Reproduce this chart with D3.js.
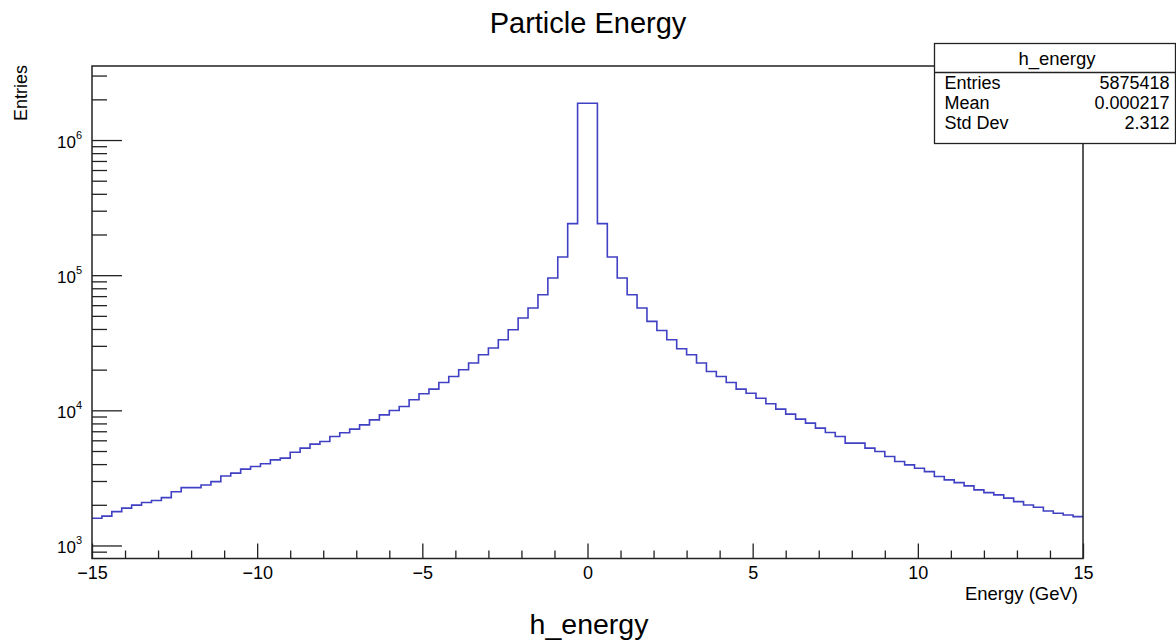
<!DOCTYPE html>
<html>
<meta charset="utf-8">
<style>
  body { margin: 0; background: #fff; }
  text { font-family: "Liberation Sans", Arial, Helvetica, sans-serif; fill: #000; }
</style>
<script src="https://d3js.org/d3.v7.min.js"></script>

<div id="hist_div"></div>

<script>

// histogram h_energy: 100 bins from -15 to 15 GeV
var binLow = -15, binHigh = 15;
var counts = [
  1590, 1650, 1780, 1890, 1990, 2080, 2150, 2260, 2500, 2680,
  2680, 2800, 2970, 3270, 3430, 3670, 3840, 4020, 4300, 4430,
  4900, 5250, 5620, 5880, 6400, 6820, 7260, 7810, 8500, 9260,
  9970, 10670, 11960, 13250, 14360, 16070, 17800, 19950, 22370, 25760,
  28900, 33280, 39450, 48170, 57150, 71730, 95310, 136400, 240700, 1870000,
  1870000, 240700, 136400, 95300, 71700, 57150, 45500, 39000, 33280, 28550,
  25760, 22370, 19370, 17800, 16070, 14360, 13390, 12300, 11200, 10210,
  9380, 8610, 8040, 7380, 6850, 6400, 5720, 5720, 5250, 4960,
  4550, 4180, 3950, 3730, 3520, 3240, 3060, 2920, 2760, 2580,
  2460, 2370, 2240, 2110, 1995, 1920, 1800, 1730, 1680, 1635
];

var statLabels = ["Entries", "Mean", "Std Dev"];
var statValues = ["5875418", "0.000217", "2.312"];

var xMajor = [-15, -10, -5, 0, 5, 10, 15];
var yDecades = [1e3, 1e4, 1e5, 1e6];

var width = 1176, height = 644;
var frame = {left: 92, right: 1083, top: 66, bottom: 558.5};

var svg = d3.select("#hist_div")
  .append("svg")
  .attr("width", width)
  .attr("height", height);

var x = d3.scaleLinear()
  .domain([binLow, binHigh])
  .range([frame.left, frame.right]);

var y = d3.scaleLog()
  .domain([801, 3.53e6])
  .range([frame.bottom, frame.top]);

var binW = (binHigh - binLow) / counts.length;

// minor ticks on x (every 1 GeV)
var xMinor = d3.range(binLow, binHigh + 0.5, 1).filter(function(v) { return v % 5 != 0; });

svg.append("g")
  .attr("transform", "translate(0," + frame.bottom + ")")
  .call(d3.axisBottom(x).tickValues(xMinor).tickSize(-8).tickFormat(""))
  .call(function(g) { g.select(".domain").remove(); })
  .selectAll("line").attr("stroke", "#222").attr("stroke-width", 1.3);

svg.append("g")
  .attr("transform", "translate(0," + frame.bottom + ")")
  .call(d3.axisBottom(x).tickValues(xMajor).tickSize(-15)
    .tickFormat(function(d) { return d < 0 ? "\u2212" + Math.abs(d) : d; }))
  .call(function(g) { g.select(".domain").remove(); })
  .call(function(g) {
    g.selectAll("line").attr("stroke", "#222").attr("stroke-width", 1.3);
    g.selectAll("text").attr("y", 8).attr("dy", "0.71em")
      .style("font-size", "18px").attr("fill", "#000");
  });

// minor ticks on y (2..9 x 10^n)
var yMinor = [];
[100, 1000, 10000, 100000, 1000000].forEach(function(p) {
  for (var m = 2; m <= 9; m++) {
    var v = m * p;
    if (v >= y.domain()[0] && v <= y.domain()[1]) yMinor.push(v);
  }
});

svg.append("g")
  .attr("transform", "translate(" + frame.left + ",0)")
  .call(d3.axisLeft(y).tickValues(yMinor).tickSize(-15).tickFormat(""))
  .call(function(g) { g.select(".domain").remove(); })
  .selectAll("line").attr("stroke", "#222").attr("stroke-width", 1.3);

var yAxis = svg.append("g")
  .attr("transform", "translate(" + frame.left + ",0)")
  .call(d3.axisLeft(y).tickValues(yDecades).tickSize(-30).tickFormat(""))
  .call(function(g) { g.select(".domain").remove(); });
yAxis.selectAll("line").attr("stroke", "#222").attr("stroke-width", 1.3);

// decade labels as 10^n
var yLab = svg.append("g");
yDecades.forEach(function(v) {
  var t = yLab.append("text")
    .attr("x", frame.left - 10)
    .attr("y", y(v) + 8)
    .attr("text-anchor", "end")
    .style("font-size", "17px");
  t.append("tspan").text("10");
  t.append("tspan").attr("dy", -9).style("font-size", "11px")
    .text(Math.round(Math.log10(v)));
});

// histogram outline
var pts = counts.map(function(c, i) { return [binLow + i * binW, c]; });
pts.push([binHigh, counts[counts.length - 1]]);

var line = d3.line()
  .x(function(d) { return x(d[0]); })
  .y(function(d) { return y(d[1]); })
  .curve(d3.curveStepAfter);

svg.append("path")
  .datum(pts)
  .attr("d", line)
  .attr("fill", "none")
  .attr("stroke", "#4040c4")
  .attr("stroke-width", 1.6);

// frame
svg.append("rect")
  .attr("x", frame.left)
  .attr("y", frame.top)
  .attr("width", frame.right - frame.left)
  .attr("height", frame.bottom - frame.top)
  .attr("fill", "none")
  .attr("stroke", "#222")
  .attr("stroke-width", 1.5);

// titles
svg.append("text")
  .attr("x", 588).attr("y", 33)
  .attr("text-anchor", "middle")
  .style("font-size", "29px")
  .text("Particle Energy");

svg.append("text")
  .attr("x", frame.right - 5).attr("y", 600)
  .attr("text-anchor", "end")
  .style("font-size", "18.5px")
  .text("Energy (GeV)");

svg.append("text")
  .attr("transform", "translate(27,65) rotate(-90)")
  .attr("text-anchor", "end")
  .style("font-size", "18px")
  .text("Entries");

svg.append("text")
  .attr("x", 589).attr("y", 634)
  .attr("text-anchor", "middle")
  .style("font-size", "28.5px")
  .text("h_energy");

// stats box
var box = {x: 934.5, y: 43.5, w: 241, h: 100, head: 29};
var sb = svg.append("g");
sb.append("rect")
  .attr("x", box.x).attr("y", box.y)
  .attr("width", box.w).attr("height", box.h)
  .attr("fill", "#fff").attr("stroke", "#222").attr("stroke-width", 1.3);
sb.append("line")
  .attr("x1", box.x).attr("x2", box.x + box.w)
  .attr("y1", box.y + box.head).attr("y2", box.y + box.head)
  .attr("stroke", "#222").attr("stroke-width", 1.3);
sb.append("text")
  .attr("x", box.x + box.w / 2 + 2).attr("y", box.y + 21)
  .attr("text-anchor", "middle")
  .style("font-size", "18.5px")
  .text("h_energy");
statLabels.forEach(function(s, i) {
  var ty = box.y + box.head + 16 + i * 20;
  sb.append("text").attr("x", box.x + 10).attr("y", ty)
    .style("font-size", "18px").text(s);
  sb.append("text").attr("x", box.x + box.w - 6).attr("y", ty)
    .attr("text-anchor", "end")
    .style("font-size", "18px").text(statValues[i]);
});

</script>
</html>
